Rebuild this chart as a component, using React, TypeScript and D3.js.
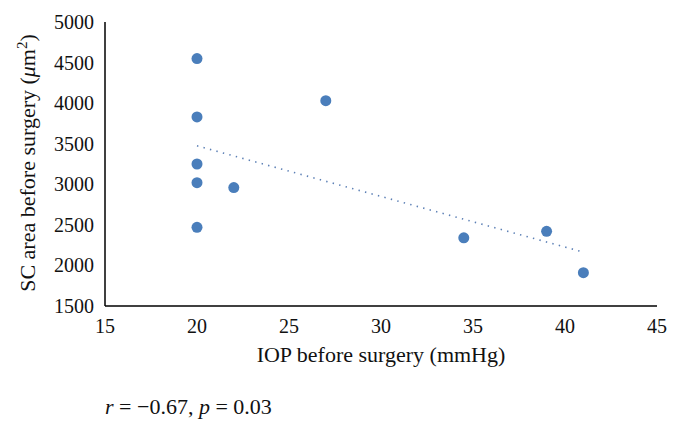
import React from "react";
import * as d3 from "d3";

const iopValues = [20, 20, 20, 20, 20, 22, 27, 34.5, 39, 41];
const scAreaValues = [4550, 3830, 3250, 3020, 2470, 2960, 4030, 2340, 2420, 1910];
const xTicks = [15, 20, 25, 30, 35, 40, 45];
const yTicks = [1500, 2000, 2500, 3000, 3500, 4000, 4500, 5000];

const W = 678;
const H = 429;
const FONT = "'Liberation Serif', 'DejaVu Serif', serif";

export default function App() {
  const x = d3.scaleLinear().domain([15, 45]).range([105, 657]);
  const y = d3.scaleLinear().domain([1500, 5000]).range([306, 22]);

  const pts = iopValues.map((v, i) => ({ x: v, y: scAreaValues[i] }));
  const mx = d3.mean(iopValues) as number;
  const my = d3.mean(scAreaValues) as number;
  const sxy = d3.sum(pts, (p) => (p.x - mx) * (p.y - my));
  const sxx = d3.sum(pts, (p) => (p.x - mx) * (p.x - mx));
  const slope = sxy / sxx;
  const icpt = my - slope * mx;
  const [x0, x1] = d3.extent(iopValues) as [number, number];
  const trend = d3.line<number>().x((d) => x(d)).y((d) => y(icpt + slope * d))([x0, x1]) || "";

  return (
    <svg width={W} height={H} style={{ position: "absolute", left: 0, top: 0, background: "#fff" }} fontFamily={FONT}>
      <rect width={W} height={H} fill="#fff" />
      {/* axes */}
      <line x1={x(15)} x2={x(15)} y1={y(5000)} y2={y(1500)} stroke="#000" strokeWidth={1.5} />
      <line x1={x(15)} x2={x(45)} y1={y(1500)} y2={y(1500)} stroke="#000" strokeWidth={1.5} />
      {yTicks.map((t) => (
        <text key={t} x={x(15) - 11} y={y(t)} dy="0.35em" textAnchor="end" fontSize={20} fill="#111">
          {t}
        </text>
      ))}
      {xTicks.map((t) => (
        <text key={t} x={x(t)} y={y(1500) + 27} textAnchor="middle" fontSize={20} fill="#111">
          {t}
        </text>
      ))}
      {/* trend line */}
      <path d={trend} stroke="#5b7fb5" strokeWidth={1.6} strokeDasharray="1.4 5.3" fill="none" />
      {/* points */}
      {pts.map((p, i) => (
        <circle key={i} cx={x(p.x)} cy={y(p.y)} r={5.5} fill="#4a7ebb" />
      ))}
      {/* axis titles */}
      <text x={381} y={362} textAnchor="middle" fontSize={22} fill="#111">
        IOP before surgery (mmHg)
      </text>
      <text transform="translate(35,163) rotate(-90)" textAnchor="middle" fontSize={22} fill="#111">
        SC area before surgery (<tspan fontStyle="italic">μ</tspan>m<tspan baselineShift="super" fontSize={15}>2</tspan>)
      </text>
      <text x={105} y={414} fontSize={22} fill="#111">
        <tspan fontStyle="italic">r</tspan> = −0.67, <tspan fontStyle="italic">p</tspan> = 0.03
      </text>
    </svg>
  );
}
